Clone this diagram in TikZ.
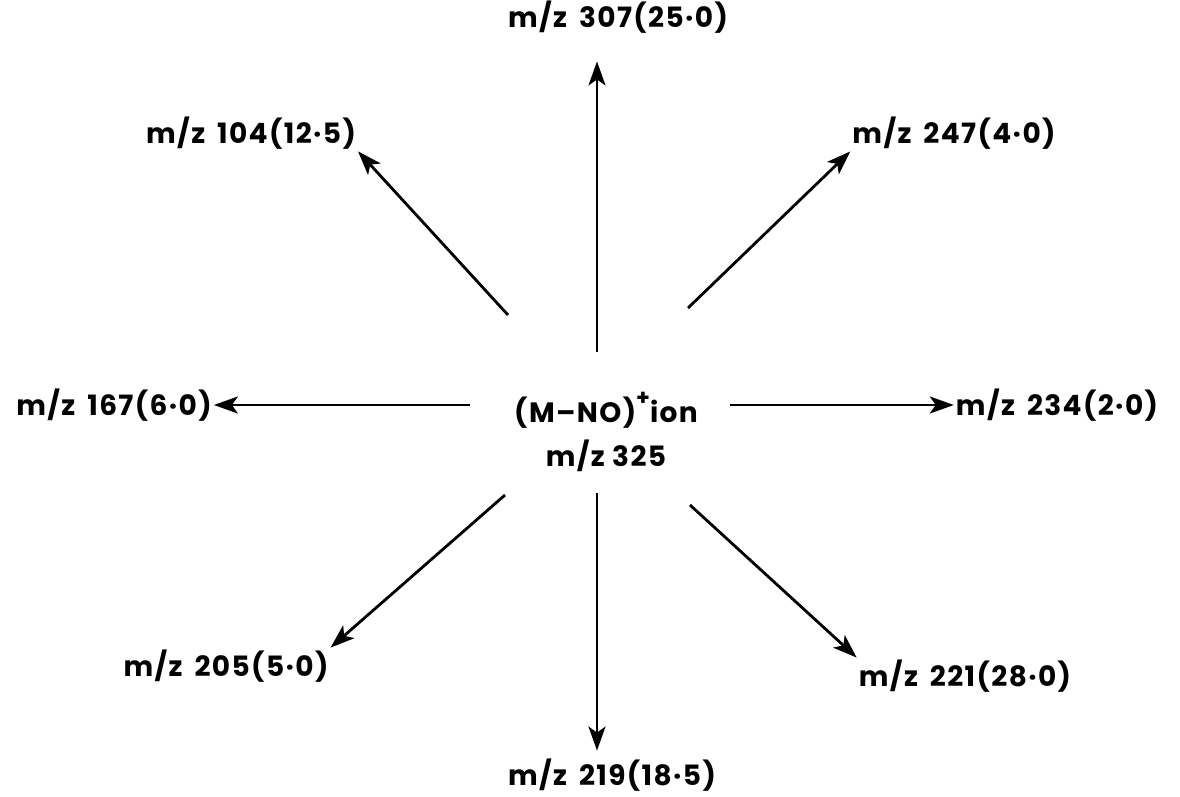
\documentclass[tikz,border=0pt]{standalone}
\usepackage{fontspec}
\setmainfont{Poppins}[LetterSpace=5]
\usetikzlibrary{arrows.meta,positioning,calc}
\tikzset{>=Stealth}

\begin{document}
\begin{tikzpicture}[
    x=1pt, y=-1pt,
    lbl/.style={font=\fontsize{28}{44}\selectfont\bfseries, inner sep=2pt, align=center},
    arr/.style={-{Stealth[length=24pt,width=17pt,inset=6pt]}, line width=2.8pt}
  ]
    \useasboundingbox (0,0) rectangle (1180,796);

    % parent ion in the middle
    \node[lbl] (ion) at (606,432) {(M--NO)\raisebox{1.1ex}{\fontsize{22}{22}\selectfont +}ion\\m/z 325};

    % fragment ions
    \node[lbl] (p307) at (618,17)  {m/z\, 307(25·0)};
    \node[lbl] (p104) at (251,133) {m/z\, 104(12·5)};
    \node[lbl] (p247) at (954,133) {m/z\, 247(4·0)};
    \node[lbl] (p167) at (114,405) {m/z\, 167(6·0)};
    \node[lbl] (p234) at (1057,405) {m/z\, 234(2·0)};
    \node[lbl] (p205) at (226,666) {m/z\, 205(5·0)};
    \node[lbl] (p221) at (965,676) {m/z\, 221(28·0)};
    \node[lbl] (p219) at (612,775) {m/z\, 219(18·5)};

    % where the arrows leave the ion
    \coordinate (s307) at (597,352);
    \coordinate (s104) at (508,315);
    \coordinate (s247) at (688,308);
    \coordinate (s167) at (470,405);
    \coordinate (s234) at (730,405);
    \coordinate (s205) at (505,495);
    \coordinate (s221) at (690,505);
    \coordinate (s219) at (597,493);

    \draw[arr, shorten >=26pt] (s307) -- (s307 |- p307.south);
    \draw[arr] (s104) -- (p104.south east);
    \draw[arr] (s247) -- (p247.south west);
    \draw[arr] (s167) -- (p167.east);
    \draw[arr] (s234) -- (p234.west);
    \draw[arr] (s205) -- (p205.north east);
    \draw[arr] (s221) -- (p221.north west);
    \draw[arr, shorten >=6pt] (s219) -- (s219 |- p219.north);
  \end{tikzpicture}
\end{document}
